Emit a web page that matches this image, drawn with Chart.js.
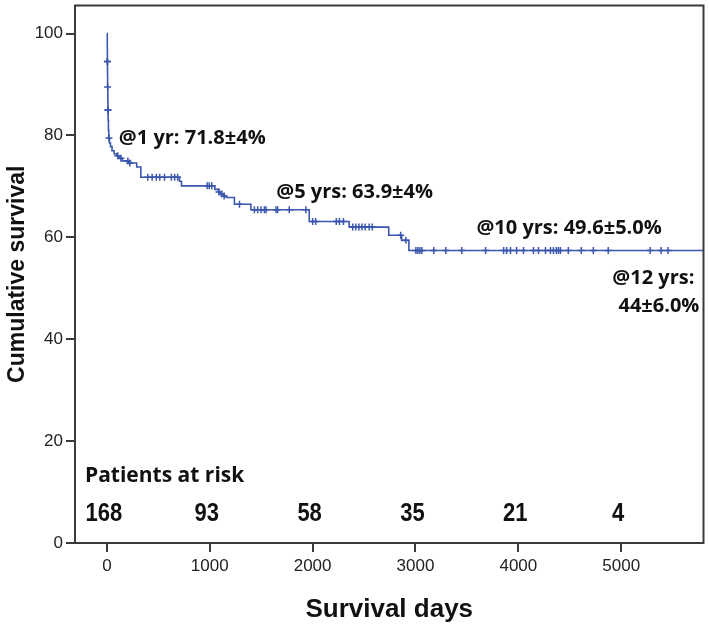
<!DOCTYPE html>
<html>
<head>
<meta charset="utf-8">
<script src="https://cdn.jsdelivr.net/npm/chart.js@4.4.1/dist/chart.umd.min.js"></script>
<style>
  html, body { margin: 0; padding: 0; background: #fff; }
  #wrap { width: 709px; height: 624px; }
</style>
</head>
<body>
<div id="wrap"><canvas id="kmChart"></canvas></div>
<script>
// Kaplan-Meier curve (days, cumulative survival %)
const kmDays = [0, 4, 5, 6, 7, 9, 10, 12, 15, 18, 25, 35, 50, 70, 95, 120, 150, 210, 290, 330,
  705, 725, 1050, 1085, 1110, 1135, 1160, 1240, 1400, 1967, 2355, 2740, 2865, 2936, 5800];
const kmSurv = [100, 97, 94.5, 92, 89.5, 87, 85, 83, 81, 79.5, 78.5, 77.8, 77, 76.4, 76, 75.5, 75.0, 74.6, 73.8, 71.8,
  71.0, 70.1, 69.4, 68.9, 68.5, 68.1, 67.8, 66.5, 65.4, 63.1, 62.0, 60.4, 59.4, 57.4, 57.4];

// censored cases (the + marks), in days
const censorDays = [5, 5, 7, 10, 10, 20, 106, 136, 204, 223,
  397, 440, 481, 514, 560, 627, 659, 688, 975, 995, 1020, 1090, 1115, 1140, 1289,
  1434, 1466, 1499, 1531, 1547, 1644, 1660, 1773, 1935, 2000, 2030, 2230, 2260, 2300,
  2390, 2420, 2450, 2480, 2510, 2550, 2580, 2856, 2907,
  3004, 3023, 3043, 3062, 3178, 3295, 3450, 3682, 3857, 3886, 3924, 3983, 4050, 4147,
  4196, 4264, 4312, 4341, 4370, 4390, 4409, 4486, 4612, 4729, 4874, 5281, 5388, 5455];

// patients at risk row
const riskDays = [0, 1000, 2000, 3000, 4000, 5000];
const riskCounts = [168, 93, 58, 35, 21, 4];

// tick labels
const xTicks = [0, 1000, 2000, 3000, 4000, 5000];
const yTicks = [0, 20, 40, 60, 80, 100];

// annotation texts
const noteTexts = ["@1 yr: 71.8±4%", "@5 yrs: 63.9±4%", "@10 yrs: 49.6±5.0%", "@12 yrs:", "44±6.0%"];

// where the texts sit (day, survival) and how they are aligned
const notePlaces = [
  { day: 116, surv: 79.5, align: "left" },
  { day: 1646, surv: 68.8, align: "left" },
  { day: 3592, surv: 61.8, align: "left" },
  { day: 5712, surv: 51.9, align: "right" },
  { day: 5760, surv: 46.4, align: "right" }
];

const lineBlue = "#3a56ae";
const frameGrey = "#3a3a3a";

// survival level at a given day (step function)
function survAt(day) {
  let s = kmSurv[0];
  for (let i = 0; i < kmDays.length; i++) {
    if (kmDays[i] <= day) s = kmSurv[i];
  }
  return s;
}

const curvePoints = kmDays.map((d, i) => ({ x: d, y: kmSurv[i] }));
const censorPoints = censorDays.map(d => ({ x: d, y: survAt(d) }));

// draws the box round the plot, the notes and the at-risk numbers
const kmExtras = {
  id: "kmExtras",
  afterDraw(chart) {
    const { ctx, chartArea: a, scales: { x, y } } = chart;
    ctx.save();
    ctx.strokeStyle = frameGrey;
    ctx.lineWidth = 2;
    ctx.strokeRect(a.left, a.top, a.right - a.left, a.bottom - a.top);

    ctx.fillStyle = "#111";
    ctx.textBaseline = "middle";
    ctx.font = "bold 20px 'Open Sans'";
    noteTexts.forEach((t, i) => {
      const p = notePlaces[i];
      ctx.textAlign = p.align;
      ctx.fillText(t, x.getPixelForValue(p.day), y.getPixelForValue(p.surv));
    });

    ctx.textAlign = "left";
    ctx.font = "bold 21px 'Open Sans'";
    ctx.fillText("Patients at risk", x.getPixelForValue(-213), y.getPixelForValue(13.1));

    // the numbers are a condensed face in the original, so squeeze them a little
    ctx.textAlign = "center";
    ctx.font = "bold 25px 'Liberation Sans'";
    riskCounts.forEach((n, i) => {
      ctx.save();
      ctx.translate(x.getPixelForValue(riskDays[i]) - 3, y.getPixelForValue(5.65));
      ctx.scale(0.88, 1);
      ctx.fillText(String(n), 0, 0);
      ctx.restore();
    });
    ctx.restore();
  }
};

const tickFont = { family: "'Liberation Sans'", size: 17 };

new Chart(document.getElementById("kmChart"), {
  type: "scatter",
  data: {
    datasets: [
      {
        label: "Survival",
        data: curvePoints,
        showLine: true,
        stepped: true,
        borderColor: lineBlue,
        borderWidth: 1.6,
        pointRadius: 0,
        fill: false
      },
      {
        label: "Censored",
        data: censorPoints,
        pointStyle: "cross",
        pointRadius: 3.5,
        borderColor: lineBlue,
        borderWidth: 1.5,
        showLine: false
      }
    ]
  },
  options: {
    responsive: true,
    maintainAspectRatio: false,
    animation: false,
    layout: { padding: { left: 0, top: 2, right: 3, bottom: 0 } },
    plugins: {
      legend: { display: false },
      tooltip: { enabled: false }
    },
    scales: {
      x: {
        type: "linear",
        min: -310,
        max: 5800,
        afterBuildTicks: s => { s.ticks = xTicks.map(v => ({ value: v })); },
        afterFit: s => { s.height = 81; s.paddingLeft = 0; s.paddingRight = 0; },
        border: { display: false },
        grid: { drawOnChartArea: false, drawTicks: true, tickLength: 9, color: frameGrey, lineWidth: 2 },
        ticks: { font: tickFont, color: "#222", padding: 4, maxRotation: 0, callback: v => String(v) },
        title: {
          display: true, text: "Survival days", color: "#111",
          font: { family: "'Liberation Sans'", size: 26, weight: "bold", lineHeight: 1 },
          padding: { top: 0, bottom: 1 }
        }
      },
      y: {
        min: 0,
        max: 105.5,
        afterBuildTicks: s => { s.ticks = yTicks.map(v => ({ value: v })); },
        afterFit: s => { s.width = 75; s.paddingTop = 0; s.paddingBottom = 0; },
        border: { display: false },
        grid: { drawOnChartArea: false, drawTicks: true, tickLength: 9, color: frameGrey, lineWidth: 2 },
        ticks: { font: tickFont, color: "#222", padding: 3, callback: v => String(v) },
        title: {
          display: true, text: "Cumulative survival", color: "#111",
          font: { family: "'Liberation Sans'", size: 23, weight: "bold", lineHeight: 1 },
          padding: { top: 6, bottom: 0 }
        }
      }
    }
  },
  plugins: [kmExtras]
});
</script>
</body>
</html>
